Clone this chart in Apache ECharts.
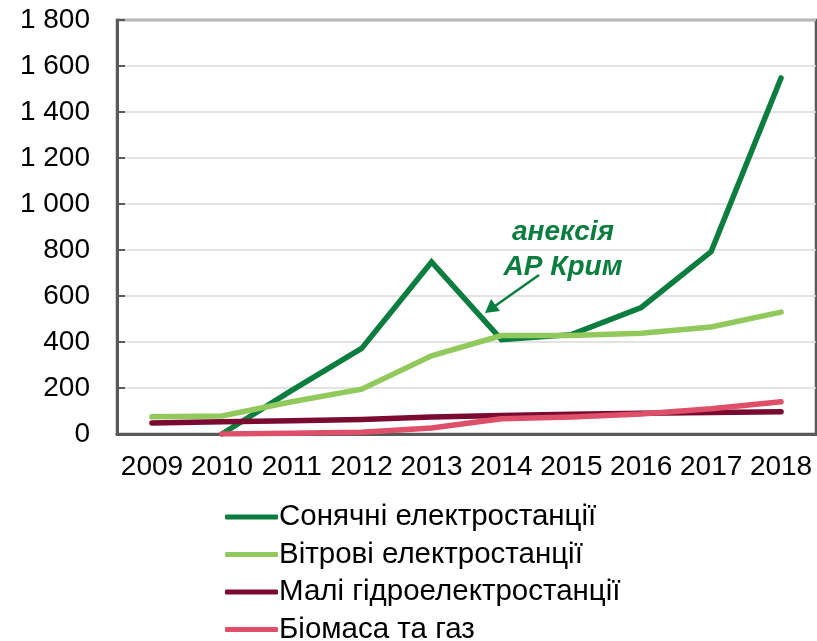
<!DOCTYPE html>
<html>
<head>
<meta charset="utf-8">
<script src="https://cdn.jsdelivr.net/npm/echarts@6/dist/echarts.min.js"></script>
<style>html,body{margin:0;padding:0;background:#fff}#c{width:817px;height:641px}</style>
</head>
<body>
<div id="c"></div>
<script>
var years = ['2009','2010','2011','2012','2013','2014','2015','2016','2017','2018'];
var solar = [null, 0, 190, 372, 748, 410, 432, 550, 793, 1548];
var wind = [75, 78, 140, 195, 340, 428, 428, 438, 465, 530];
var hydro = [48, 53, 58, 63, 74, 80, 86, 90, 94, 97];
var biomass = [null, 0, 3, 8, 26, 66, 74, 87, 110, 140];
var seriesNames = ['Сонячні електростанції', 'Вітрові електростанції', 'Малі гідроелектростанції', 'Біомаса та газ'];
var colors = ['#0b7d3f', '#92c95c', '#7a0a30', '#de4f69'];
var yTicks = { min: 0, max: 1800, interval: 200 };

var font = '"Liberation Sans", Arial, sans-serif';
var chart = echarts.init(document.getElementById('c'), null, { renderer: 'canvas' });
function fmt(v) { return String(v).replace(/\B(?=(\d{3})+(?!\d))/g, ' '); }
var dataSets = [solar, wind, hydro, biomass];
var series = dataSets.map(function (d, i) {
  return {
    name: seriesNames[i], type: 'line', data: d, symbol: 'none',
    lineStyle: { color: colors[i], width: 5.5, cap: 'round', join: 'miter' },
    itemStyle: { color: colors[i] }, connectNulls: false, z: 2 + i
  };
});
chart.setOption({
  animation: false,
  grid: { left: 117, right: 1, top: 20, bottom: 207, show: true, borderColor: '#595959', borderWidth: 2.5, backgroundColor: 'transparent' },
  xAxis: {
    type: 'category', data: years, boundaryGap: true,
    axisLine: { lineStyle: { color: '#595959', width: 3 } },
    axisTick: { inside: true, length: 7, lineStyle: { color: '#595959', width: 2 } },
    axisLabel: { fontSize: 28, color: '#000', fontFamily: font, margin: 19, interval: 0 },
    splitLine: { show: false }
  },
  yAxis: {
    type: 'value', min: yTicks.min, max: yTicks.max, interval: yTicks.interval,
    axisLine: { show: true, lineStyle: { color: '#595959', width: 3 } },
    axisTick: { show: true, inside: true, length: 8, lineStyle: { color: '#595959', width: 2 } },
    axisLabel: { fontSize: 28, color: '#000', fontFamily: font, margin: 27, formatter: fmt },
    splitLine: { lineStyle: { color: '#d9d9d9', width: 1.5 } }
  },
  legend: {
    orient: 'vertical', left: 220, top: 497, height: 200, width: 560,
    itemWidth: 53, itemHeight: 5, itemGap: 7.5, icon: 'roundRect',
    textStyle: { fontSize: 29.5, color: '#000', fontFamily: font, lineHeight: 30, padding: [0, 0, 0, -4] },
    data: seriesNames
  },
  series: series,
  graphic: [
    { type: 'text', style: { text: 'анексія', x: 563, y: 232, textAlign: 'center', textVerticalAlign: 'middle', font: 'italic bold 28px ' + font, fill: '#0b7d3f' }, z: 10 },
    { type: 'text', style: { text: 'АР Крим', x: 563, y: 267, textAlign: 'center', textVerticalAlign: 'middle', font: 'italic bold 28px ' + font, fill: '#0b7d3f' }, z: 10 },
    { type: 'line', shape: { x1: 539, y1: 275, x2: 495, y2: 306 }, style: { stroke: '#0b7d3f', lineWidth: 2.5 }, z: 10 },
    { type: 'polygon', shape: { points: [[485, 313], [491, 299], [500, 311]] }, style: { fill: '#0b7d3f' }, z: 10 }
  ]
});
</script>
</body>
</html>
